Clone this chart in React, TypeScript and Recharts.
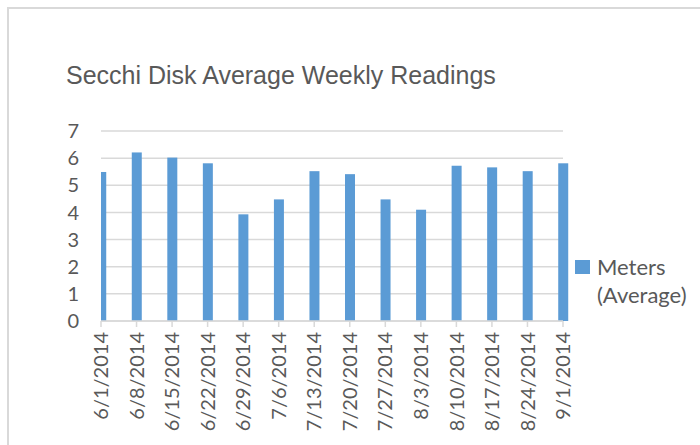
import React from 'react';
import { BarChart, Bar, XAxis, YAxis, CartesianGrid } from 'recharts';

const dates = ['6/1/2014', '6/8/2014', '6/15/2014', '6/22/2014', '6/29/2014', '7/6/2014', '7/13/2014', '7/20/2014', '7/27/2014', '8/3/2014', '8/10/2014', '8/17/2014', '8/24/2014', '9/1/2014'];
const meters = [5.49, 6.21, 6.02, 5.81, 3.93, 4.48, 5.52, 5.41, 4.48, 4.1, 5.72, 5.66, 5.52, 5.81];
const yTicks = [0, 1, 2, 3, 4, 5, 6, 7];
const seriesName = 'Meters (Average)';
const title = 'Secchi Disk Average Weekly Readings';

const data = dates.map((d, i) => ({ i, date: d, v: meters[i] }));
const xTicks = dates.map((_, i) => i);

const PLOT_LEFT = 101;
const TEXT = '#595959';
const GRID = '#D9D9D9';
const BLUE = '#5B9BD5';

const XTick = (props: any) => {
  const { x, y, payload } = props;
  const ty = y + 3;
  return (
    <text
      x={x}
      y={ty}
      transform={`rotate(-90 ${x} ${ty})`}
      textAnchor="end"
      dy="0.36em"
      fill={TEXT}
      fontSize={20}
      fontFamily="Lato"
    >
      {dates[payload.value]}
    </text>
  );
};

const BarShape = (props: any) => {
  const { x, y, width, height, fill } = props;
  const left = Math.max(x, PLOT_LEFT);
  const w = x + width - left;
  if (w <= 0 || height <= 0) return null;
  return <rect x={left} y={y} width={w} height={height} fill={fill} />;
};

export default function App() {
  return (
    <div style={{ position: 'absolute', left: 0, top: 0, width: 700, height: 445, background: '#fff', overflow: 'hidden' }}>
      <div style={{ position: 'absolute', left: 7, top: 7, width: 720, height: 460, borderLeft: `2px solid ${GRID}`, borderTop: `2px solid ${GRID}` }} />
      <div style={{ position: 'absolute', left: 66, top: 60, fontFamily: '"Liberation Sans", Arial, sans-serif', fontSize: 25, lineHeight: '30px', color: TEXT, whiteSpace: 'nowrap' }}>
        {title}
      </div>
      <div style={{ position: 'absolute', left: 0, top: 0 }}>
        <BarChart width={700} height={445} data={data} margin={{ top: 131, right: 137, left: 0, bottom: 0 }}>
          <CartesianGrid vertical={false} stroke={GRID} strokeWidth={1.5} />
          <XAxis
            type="number"
            dataKey="i"
            domain={[0, dates.length - 1]}
            ticks={xTicks}
            interval={0}
            height={124}
            stroke={GRID}
            strokeWidth={1.5}
            tickSize={6}
            tick={<XTick />}
            allowDecimals={false}
          />
          <YAxis
            width={PLOT_LEFT}
            domain={[0, 7]}
            ticks={yTicks}
            interval={0}
            axisLine={false}
            tickLine={false}
            tickSize={6}
            tickMargin={16}
            tick={{ fill: TEXT, fontSize: 20, fontFamily: 'Lato' }}
          />
          <Bar dataKey="v" name={seriesName} fill={BLUE} barSize={10} shape={<BarShape />} isAnimationActive={false} />
        </BarChart>
      </div>
      <div style={{ position: 'absolute', left: 575, top: 253, display: 'flex', alignItems: 'flex-start', fontFamily: 'Lato', fontSize: 22, lineHeight: '28px', color: TEXT }}>
        <div style={{ width: 15, height: 14, background: BLUE, marginTop: 7, marginRight: 7, flex: 'none' }} />
        <div style={{ width: 103 }}>{seriesName}</div>
      </div>
    </div>
  );
}
